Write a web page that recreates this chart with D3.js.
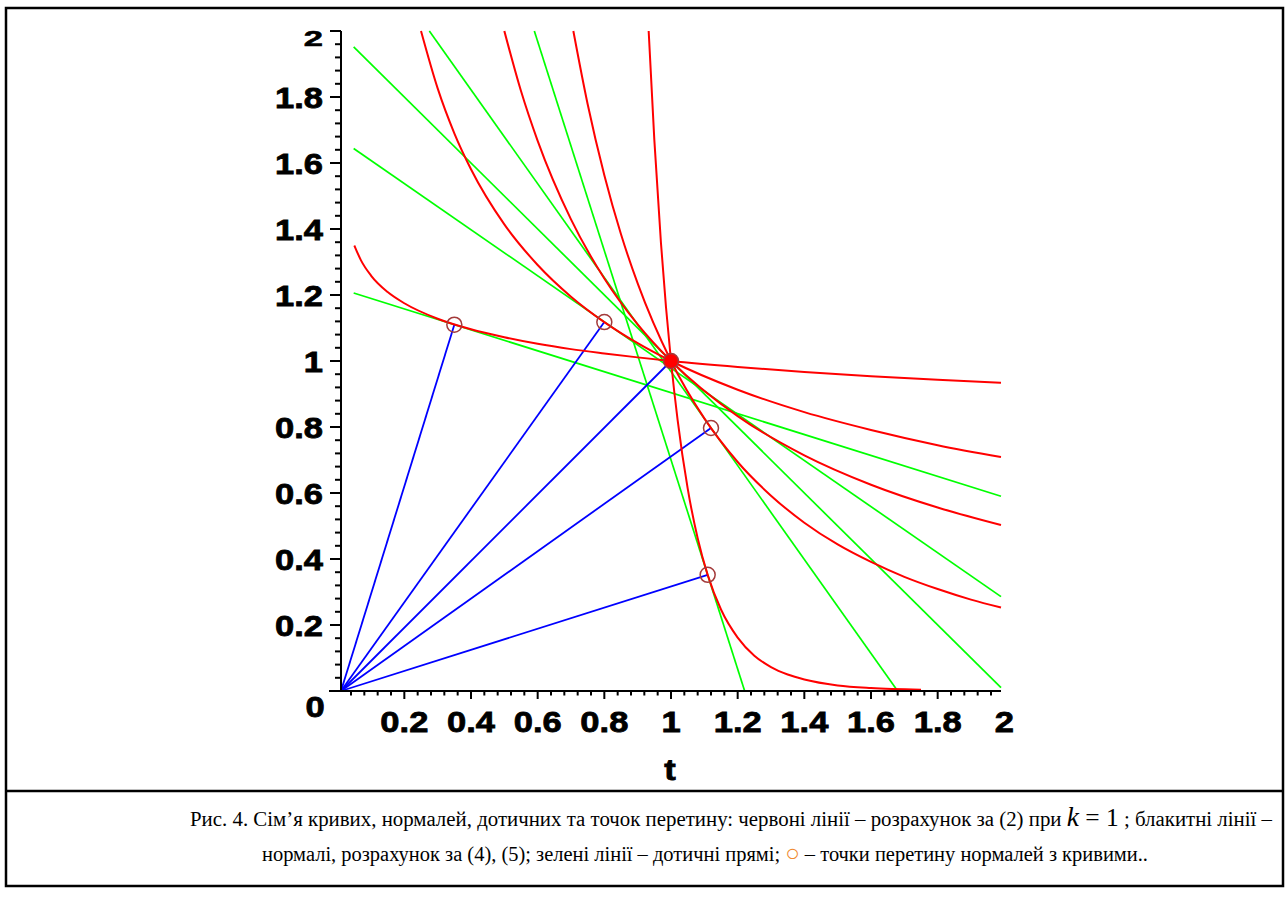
<!DOCTYPE html>
<html>
<head>
<meta charset="utf-8">
<script src="https://cdn.jsdelivr.net/npm/d3@7"></script>
<style>
  body { margin: 0; background: #fff; }
  .tick-label { font-family: "Liberation Sans", Arial, sans-serif; font-weight: bold; font-size: 30px; fill: #000; stroke: #000; stroke-width: 0.8px; }
  .caption { font-family: "Liberation Serif", "Times New Roman", serif; font-size: 20.5px; fill: #000; }
</style>
</head>
<body>
<div id="chart"></div>
<script>
// ---- data ----
// red curves (family through (1,1)), points [t, y]
var curveA = [[0.05,1.35],[0.07,1.305],[0.1,1.259],[0.15,1.209],[0.2,1.175],[0.3,1.128],[0.4,1.096],[0.5,1.072],
              [0.6,1.052],[0.7,1.036],[0.8,1.023],[0.9,1.011],[1.0,1.0],[1.2,0.982],[1.4,0.967],[1.6,0.954],[1.8,0.943],[1.99,0.934]];
var curveB = [[0.25,2.0],[0.3,1.826],[0.35,1.69],[0.4,1.581],[0.5,1.414],[0.6,1.291],[0.7,1.195],[0.8,1.118],[0.9,1.054],
              [1.0,1.0],[1.2,0.913],[1.4,0.845],[1.6,0.791],[1.8,0.745],[1.99,0.709]];
var curveC = [[0.5,2.0],[0.55,1.818],[0.6,1.667],[0.7,1.429],[0.8,1.25],[0.9,1.111],[1.0,1.0],[1.2,0.833],[1.4,0.714],
              [1.6,0.625],[1.8,0.556],[1.99,0.503]];
var curveD = [[0.707,2.0],[0.75,1.778],[0.8,1.563],[0.85,1.384],[0.9,1.235],[1.0,1.0],[1.1,0.826],[1.2,0.694],[1.3,0.592],
              [1.4,0.51],[1.5,0.444],[1.6,0.391],[1.7,0.346],[1.8,0.309],[1.9,0.277],[1.99,0.253]];
var curveE = [[0.933,2.0],[0.95,1.67],[0.97,1.356],[0.985,1.163],[1.0,1.0],[1.02,0.82],[1.05,0.614],[1.08,0.463],[1.11,0.352],
              [1.15,0.247],[1.2,0.162],[1.25,0.107],[1.3,0.0725],[1.35,0.05],[1.4,0.035],[1.5,0.017],[1.6,0.009],[1.75,0.004]];
var redCurves = [curveA, curveB, curveC, curveD, curveE];

// green tangent lines, [start, end]
var tangents = [
  [[0.048,1.206],[1.99,0.59]],
  [[0.048,1.644],[1.99,0.286]],
  [[0.048,1.952],[1.99,0.01]],
  [[0.275,2.0],[1.68,0.0]],
  [[0.59,2.0],[1.221,0.0]]
];

// intersection points of normals with curves
var crossPts = [[0.35,1.11],[0.8,1.118],[1.0,1.0],[1.12,0.797],[1.11,0.352]];
var normalOrigin = [0.01, 0.0];

var xMajor = [0.2,0.4,0.6,0.8,1,1.2,1.4,1.6,1.8,2];
var xLabels = ["0.2","0.4","0.6","0.8","1","1.2","1.4","1.6","1.8","2"];
var yMajor = [0.2,0.4,0.6,0.8,1,1.2,1.4,1.6,1.8,2];
var yLabels = ["0.2","0.4","0.6","0.8","1","1.2","1.4","1.6","1.8","2"];

var captionLine1 = "Рис. 4. Сім’я кривих, нормалей, дотичних та точок перетину: червоні лінії – розрахунок за (2) при ";
var captionLine1b = " ; блакитні лінії –";
var captionLine2 = "нормалі, розрахунок за (4), (5); зелені лінії – дотичні прямі; ";
var captionLine2b = " – точки перетину нормалей з кривими..";

// ---- drawing ----
var width = 1288, height = 899;

var svg = d3.select("#chart").append("svg")
    .attr("width", width)
    .attr("height", height);

// frame
svg.append("rect")
    .attr("x", 6).attr("y", 8)
    .attr("width", 1277).attr("height", 878)
    .attr("fill", "none").attr("stroke", "#000").attr("stroke-width", 2.5);
svg.append("line")
    .attr("x1", 6).attr("x2", 1283).attr("y1", 791).attr("y2", 791)
    .attr("stroke", "#000").attr("stroke-width", 2.5);

var x = d3.scaleLinear().domain([0.01, 1.99]).range([341, 1001]);
var y = d3.scaleLinear().domain([0, 2]).range([691, 31]);

var line = d3.line()
    .x(function (d) { return x(d[0]); })
    .y(function (d) { return y(d[1]); });

var plot = svg.append("g");

// tangents
plot.selectAll(".tangent")
    .data(tangents)
    .enter().append("path")
    .attr("class", "tangent")
    .attr("d", line)
    .attr("fill", "none")
    .attr("stroke", "#00ff00")
    .attr("stroke-width", 1.7);

// normals
plot.selectAll(".normal")
    .data(crossPts)
    .enter().append("path")
    .attr("class", "normal")
    .attr("d", function (d) { return line([normalOrigin, d]); })
    .attr("fill", "none")
    .attr("stroke", "#0000ff")
    .attr("stroke-width", 1.8);

// red curves
plot.selectAll(".curve")
    .data(redCurves)
    .enter().append("path")
    .attr("class", "curve")
    .attr("d", line.curve(d3.curveMonotoneX))
    .attr("fill", "none")
    .attr("stroke", "#ff0000")
    .attr("stroke-width", 2);

// axes
var axes = svg.append("g");
axes.append("line")
    .attr("x1", 329).attr("x2", x(1.99)).attr("y1", y(0)).attr("y2", y(0))
    .attr("stroke", "#000").attr("stroke-width", 2);
axes.append("line")
    .attr("x1", x(0.01)).attr("x2", x(0.01)).attr("y1", y(0)).attr("y2", y(2))
    .attr("stroke", "#000").attr("stroke-width", 2);

var xMinor = d3.range(1, 50).map(function (i) { return i * 0.04; })
    .filter(function (v) { return Math.abs(v * 5 - Math.round(v * 5)) > 1e-6; });
var yMinor = xMinor.slice();

axes.selectAll(".xminor").data(xMinor).enter().append("line")
    .attr("x1", function (d) { return x(d); }).attr("x2", function (d) { return x(d); })
    .attr("y1", y(0)).attr("y2", y(0) + 4.5)
    .attr("stroke", "#000").attr("stroke-width", 2);
axes.selectAll(".xmajor").data(xMajor.filter(function (d) { return d < 1.995; })).enter().append("line")
    .attr("x1", function (d) { return x(d); }).attr("x2", function (d) { return x(d); })
    .attr("y1", y(0)).attr("y2", y(0) + 8)
    .attr("stroke", "#000").attr("stroke-width", 2);
axes.selectAll(".yminor").data(yMinor).enter().append("line")
    .attr("x1", x(0.01) - 6).attr("x2", x(0.01))
    .attr("y1", function (d) { return y(d); }).attr("y2", function (d) { return y(d); })
    .attr("stroke", "#000").attr("stroke-width", 2);
axes.selectAll(".ymajor").data(yMajor).enter().append("line")
    .attr("x1", x(0.01) - 11).attr("x2", x(0.01))
    .attr("y1", function (d) { return y(d); }).attr("y2", function (d) { return y(d); })
    .attr("stroke", "#000").attr("stroke-width", 2);

// tick labels
axes.selectAll(".xlab").data(xMajor).enter().append("g")
    .attr("transform", function (d) { return "translate(" + x(d) + "," + 732 + ") scale(1.15,1)"; })
    .append("text")
    .attr("class", "tick-label")
    .attr("text-anchor", "middle")
    .text(function (d, i) { return xLabels[i]; });

axes.selectAll(".ylab").data(yMajor).enter().append("g")
    .attr("transform", function (d) {
        if (d === 2) return "translate(323,46) scale(1.15,0.73)";
        return "translate(323," + (y(d) + 11) + ") scale(1.15,1)";
    })
    .append("text")
    .attr("class", "tick-label")
    .attr("text-anchor", "end")
    .text(function (d, i) { return yLabels[i]; });

axes.append("g").attr("transform", "translate(315,717) scale(1.15,1)")
    .append("text").attr("class", "tick-label").attr("text-anchor", "middle").text("0");
axes.append("g").attr("transform", "translate(670,780) scale(1.15,1)")
    .append("text").attr("class", "tick-label").attr("text-anchor", "middle").text("t");

// markers
plot.selectAll(".mark")
    .data(crossPts)
    .enter().append("circle")
    .attr("class", "mark")
    .attr("cx", function (d) { return x(d[0]); })
    .attr("cy", function (d) { return y(d[1]); })
    .attr("r", 7.5)
    .attr("fill", function (d) { return d[0] === 1 && d[1] === 1 ? "#ff0000" : "none"; })
    .attr("stroke", "#a33a3a")
    .attr("stroke-width", 1.5);

// caption
var cap1 = svg.append("text").attr("class", "caption").attr("x", 190).attr("y", 826)
    .attr("textLength", 1082).attr("lengthAdjust", "spacingAndGlyphs");
cap1.append("tspan").text(captionLine1);
cap1.append("tspan").style("font-style", "italic").style("font-size", "27px").text("k");
cap1.append("tspan").style("font-size", "25px").text(" = 1");
cap1.append("tspan").text(captionLine1b);

var cap2 = svg.append("text").attr("class", "caption").attr("x", 262).attr("y", 861)
    .attr("textLength", 886).attr("lengthAdjust", "spacingAndGlyphs");
cap2.append("tspan").text(captionLine2);
cap2.append("tspan").attr("fill", "#f08a30").style("font-size", "24px").text("○");
cap2.append("tspan").text(captionLine2b);
</script>
</body>
</html>
